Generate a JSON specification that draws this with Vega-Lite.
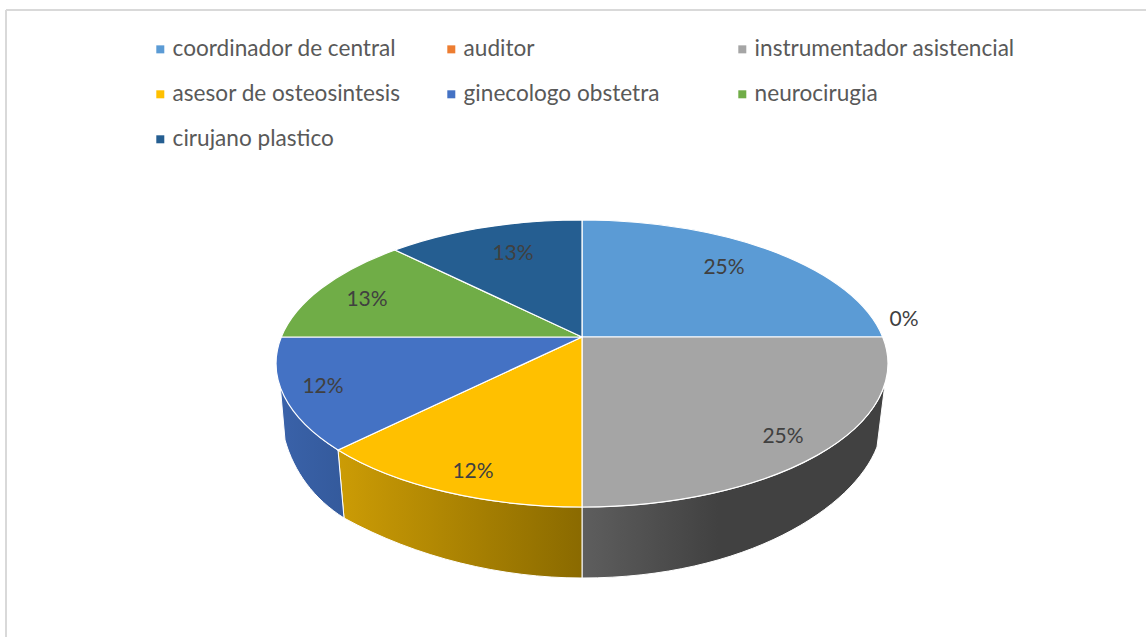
{
"$schema":"https://vega.github.io/schema/vega-lite/v6.json",
"width":1146,"height":637,"padding":0,
"autosize":{"type":"fit","contains":"padding"},
"background":"white",
"config":{"view":{"stroke":null},"font":"Lato"},
"data":{"values":[
{"orden":1,"cargo":"coordinador de central","porcentaje":25,"etiqueta":"25%"},
{"orden":2,"cargo":"auditor","porcentaje":0,"etiqueta":"0%"},
{"orden":3,"cargo":"instrumentador asistencial","porcentaje":25,"etiqueta":"25%"},
{"orden":4,"cargo":"asesor de osteosintesis","porcentaje":12.5,"etiqueta":"12%"},
{"orden":5,"cargo":"ginecologo obstetra","porcentaje":12.5,"etiqueta":"12%"},
{"orden":6,"cargo":"neurocirugia","porcentaje":12.5,"etiqueta":"13%"},
{"orden":7,"cargo":"cirujano plastico","porcentaje":12.5,"etiqueta":"13%"}
]},
"encoding":{
 "color":{"field":"cargo","type":"nominal","legend":null,"scale":{
   "domain":["coordinador de central","auditor","instrumentador asistencial","asesor de osteosintesis","ginecologo obstetra","neurocirugia","cirujano plastico"],
   "range":["#5B9BD5","#ED7D31","#A5A5A5","#FFC000","#4472C4","#70AD47","#255E91"]}}
},
"layer":[
{"data":{"values":[{"marco":"izquierda"}]},"mark":{"type":"rule","color":"#d9d9d9","strokeWidth":2},"encoding":{"color":{"value":"#d9d9d9"},"x":{"value":6},"y":{"value":10},"y2":{"value":637}}},
{"data":{"values":[{"marco":"arriba"}]},"mark":{"type":"rule","color":"#d9d9d9","strokeWidth":2},"encoding":{"color":{"value":"#d9d9d9"},"x":{"value":6},"x2":{"value":1146},"y":{"value":10}}},
{"mark":{"type":"square","opacity":1,"size":0},
 "encoding":{"x":{"value":582},"y":{"value":337},
  "color":{"field":"cargo","type":"nominal","scale":{
   "domain":["coordinador de central","auditor","instrumentador asistencial","asesor de osteosintesis","ginecologo obstetra","neurocirugia","cirujano plastico"],
   "range":["#5B9BD5","#ED7D31","#A5A5A5","#FFC000","#4472C4","#70AD47","#255E91"]},
   "legend":{"title":null,"orient":"none","legendX":149,"legendY":38,"columns":3,"direction":"horizontal","gridAlign":"all","symbolType":"square","symbolSize":64,"symbolStrokeWidth":0,"labelFont":"Lato","labelFontSize":22.6,"labelColor":"#595959","labelOffset":1,"rowPadding":22,"columnPadding":7,"labelLimit":400}}}},
{"transform":[{"filter":"datum.orden==3"}],
 "mark":{"type":"point","filled":true,"opacity":1,"size":4,"stroke":"white","strokeWidth":1,
  "shape":"M0,170 L0,241 C165,241 272,170 295,110 L303,46.5 A306,143.5 0 0 1 0,170 Z",
  "fill":{"gradient":"linear","x1":0,"y1":0,"x2":1,"y2":0,"stops":[{"offset":0,"color":"#5e5e5e"},{"offset":0.45,"color":"#414141"},{"offset":1,"color":"#414141"}]}},
 "encoding":{"color":{"value":null},"x":{"value":582},"y":{"value":337}}},
{"transform":[{"filter":"datum.orden==4"}],
 "mark":{"type":"point","filled":true,"opacity":1,"size":4,"stroke":"white","strokeWidth":1,
  "shape":"M0,170 L0,241 C-80,241 -165,221 -238,181 L-244,113 A306,143.5 0 0 0 0,170 Z",
  "fill":{"gradient":"linear","x1":0,"y1":0,"x2":1,"y2":0,"stops":[{"offset":0,"color":"#cc9c05"},{"offset":1,"color":"#8a6a00"}]}},
 "encoding":{"color":{"value":null},"x":{"value":582},"y":{"value":337}}},
{"transform":[{"filter":"datum.orden==5"}],
 "mark":{"type":"point","filled":true,"opacity":1,"size":4,"stroke":"white","strokeWidth":1,
  "shape":"M-244,113 L-238,181 C-268,162 -288,135 -297,103 L-302,46.5 A306,143.5 0 0 0 -244,113 Z",
  "fill":{"gradient":"linear","x1":0,"y1":0,"x2":1,"y2":0,"stops":[{"offset":0,"color":"#3a62a9"},{"offset":1,"color":"#345a9c"}]}},
 "encoding":{"color":{"value":null},"x":{"value":582},"y":{"value":337}}},
{"transform":[{"filter":"datum.orden==1"}],"mark":{"type":"point","filled":true,"opacity":1,"size":4,"stroke":"white","strokeWidth":1.2,"shape":"M0,0 L0,-117 A306,143.5 0 0 1 300.7,0 Z"},"encoding":{"x":{"value":582},"y":{"value":337}}},
{"transform":[{"filter":"datum.orden==3"}],"mark":{"type":"point","filled":true,"opacity":1,"size":4,"stroke":"white","strokeWidth":1.2,"shape":"M0,0 L300.7,0 A306,143.5 0 0 1 0,170 Z"},"encoding":{"x":{"value":582},"y":{"value":337}}},
{"transform":[{"filter":"datum.orden==4"}],"mark":{"type":"point","filled":true,"opacity":1,"size":4,"stroke":"white","strokeWidth":1.2,"shape":"M0,0 L0,170 A306,143.5 0 0 1 -244,113 Z"},"encoding":{"x":{"value":582},"y":{"value":337}}},
{"transform":[{"filter":"datum.orden==5"}],"mark":{"type":"point","filled":true,"opacity":1,"size":4,"stroke":"white","strokeWidth":1.2,"shape":"M0,0 L-244,113 A306,143.5 0 0 1 -300.7,0 Z"},"encoding":{"x":{"value":582},"y":{"value":337}}},
{"transform":[{"filter":"datum.orden==6"}],"mark":{"type":"point","filled":true,"opacity":1,"size":4,"stroke":"white","strokeWidth":1.2,"shape":"M0,0 L-300.7,0 A306,143.5 0 0 1 -187,-87 Z"},"encoding":{"x":{"value":582},"y":{"value":337}}},
{"transform":[{"filter":"datum.orden==7"}],"mark":{"type":"point","filled":true,"opacity":1,"size":4,"stroke":"white","strokeWidth":1.2,"shape":"M0,0 L-187,-87 A306,143.5 0 0 1 0,-117 Z"},"encoding":{"x":{"value":582},"y":{"value":337}}},
{"mark":{"type":"text","font":"Lato","fontSize":21,"align":"center","baseline":"middle"},
 "encoding":{
  "color":{"value":"#404040"},
  "x":{"field":"orden","type":"quantitative","axis":null,"scale":{"zero":false,"domain":[1,2,3,4,5,6,7],"range":[724,904,783,473,323,367,513]}},
  "y":{"field":"orden","type":"quantitative","axis":null,"scale":{"zero":false,"domain":[1,2,3,4,5,6,7],"range":[267.5,319.5,436.5,471.5,386.5,299.5,253.5]}},
  "text":{"field":"etiqueta","type":"nominal"}
 }}
]
}
